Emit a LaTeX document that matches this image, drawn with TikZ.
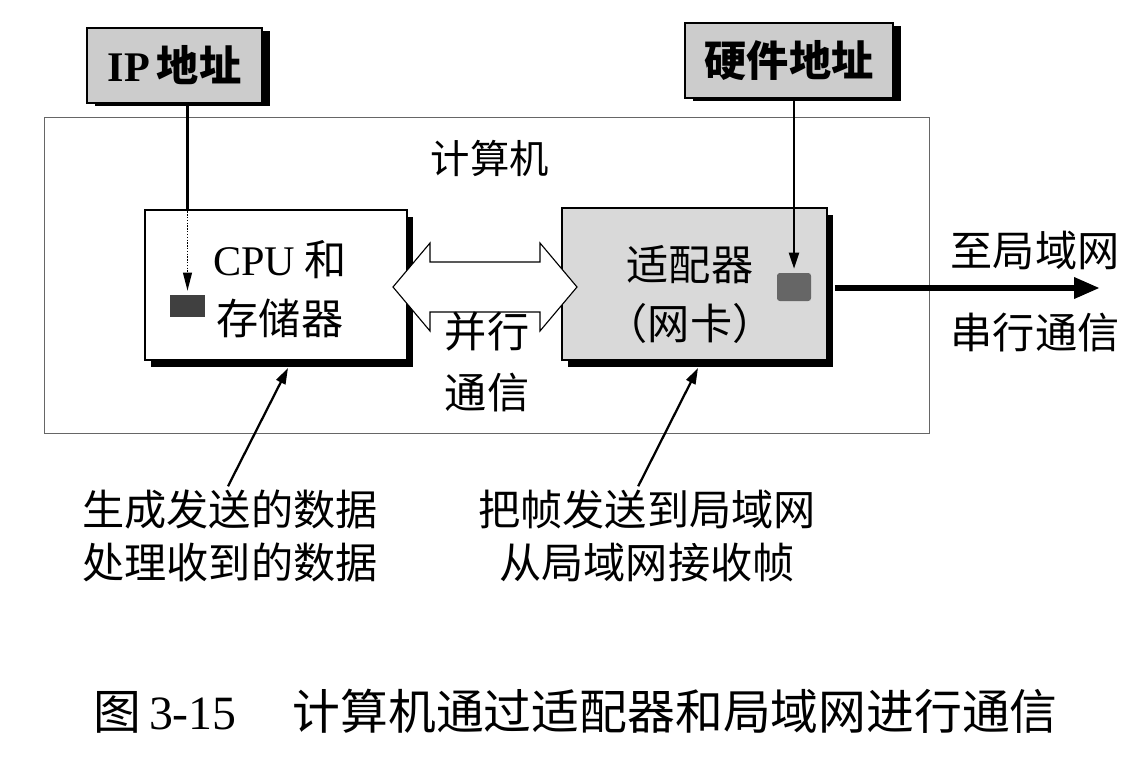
\documentclass[tikz,border=0pt]{standalone}
\usepackage{fontspec}
\setmainfont{Liberation Serif}
\newfontfamily\cjk{Noto Sans CJK SC}
\usetikzlibrary{arrows.meta,shadows}
\begin{document}
\begin{tikzpicture}[x=0.025cm,y=-0.025cm,
  txt/.style={font=\cjk\fontsize{30pt}{38pt}\selectfont, inner sep=0pt, align=center},
  tag/.style={draw=black, line width=0.8pt, fill=gray!40, minimum height=1.875cm, inner sep=0pt,
     drop shadow={shadow xshift=0.2cm, shadow yshift=-0.07cm, fill=black, opacity=1}},
  unit/.style={draw=black, line width=2pt, minimum width=6.6cm, minimum height=3.8cm, inner sep=0pt,
     drop shadow={shadow xshift=0.16cm, shadow yshift=-0.18cm, fill=black, opacity=1}},
  chip/.style={fill=black!75, inner sep=0pt},
  ptr/.style={line width=1.6pt, -{Triangle[length=0.4cm, width=0.25cm]}},
]
\useasboundingbox (0,0) rectangle (1129,756);
\fill[white] (0,0) rectangle (1129,756);

% computer frame
\node[draw=black!60, line width=0.6pt, minimum width=22.1cm, minimum height=7.9cm, inner sep=0pt]
  (computer) at (487,275) {};
\node[txt, font=\cjk\fontsize{28pt}{34pt}\selectfont] (comptitle) at (490,158) {计算机};

% address tags
\node[tag, minimum width=4.375cm] (ip) at (174.5,65.5)
  {\bfseries\fontsize{30pt}{36pt}\selectfont IP\,{\cjk\bfseries 地址}};
\node[tag, minimum width=5.2cm] (hw) at (789,60.5)
  {\cjk\bfseries\fontsize{30pt}{36pt}\selectfont 硬件地址};

% CPU and adapter
\node[unit, fill=white, minimum width=6.55cm, minimum height=3.75cm] (cpu) at (276,285) {};
\node[txt, anchor=center] (cputext) at (280,289)
  {{\rmfamily CPU} 和\\[4pt]存储器};
\node[unit, fill=gray!30, minimum width=6.625cm, minimum height=3.8cm] (nic) at (694.5,284) {};
\node[txt] (nictext) at (690,294) {适配器\\[4pt]（网卡）};

% chips
\node[chip, minimum width=0.85cm, minimum height=0.55cm] (cpuchip) at (187.5,306) {};
\node[chip, fill=black!60, rounded corners=2pt, minimum width=0.85cm, minimum height=0.7cm] (nicchip) at (794,287) {};

% address pointers
\coordinate (ipdrop) at (cpuchip.north |- cpu.north);
\draw[line width=1.8pt] (cpuchip.north |- ip.south) -- (ipdrop);
\draw[line width=1pt, densely dotted, -{Triangle[length=0.45cm, width=0.22cm]}] (ipdrop) -- ([yshift=0.1cm]cpuchip.north);
\draw[ptr, line width=1.4pt] (nicchip.north |- hw.south) -- ([yshift=0.1cm]nicchip.north);

% parallel bus (double arrow)
\draw[line width=0.8pt, fill=white] (393,287) -- (430,243) -- (430,262) -- (540,262) -- (540,243)
  -- (577,287) -- (540,331) -- (540,312) -- (430,312) -- (430,331) -- cycle;
\node[txt] (par) at (487,362) {并行\\[5pt]通信};

% serial link
\coordinate (lan) at (1100,288);
\draw[line width=4.5pt, -{Triangle[length=0.65cm, width=0.5cm]}] (nic.east |- lan) ++(0.16cm,0) -- (lan);
\node[txt] (tolan) at (1035,250) {至局域网};
\node[txt] (serial) at (1035,333) {串行通信};

% bottom labels
\node[txt] (lab1) at (230,536) {生成发送的数据\\处理收到的数据};
\node[txt] (lab2) at (647,536) {把帧发送到局域网\\从局域网接收帧};
\coordinate (cpuhit) at (288,368);
\coordinate (nichit) at (698,368);
\draw[ptr] ([xshift=-0.05cm, yshift=0.08cm]lab1.north) -- (cpuhit);
\draw[ptr] ([xshift=-0.22cm, yshift=0.08cm]lab2.north) -- (nichit);

% caption
\node[inner sep=0pt, anchor=west] (caption) at (93,711)
  {\cjk\fontsize{34pt}{40pt}\selectfont 图\,{\rmfamily 3-15}\hspace{1.4cm}计算机通过适配器和局域网进行通信};
\end{tikzpicture}
\end{document}
